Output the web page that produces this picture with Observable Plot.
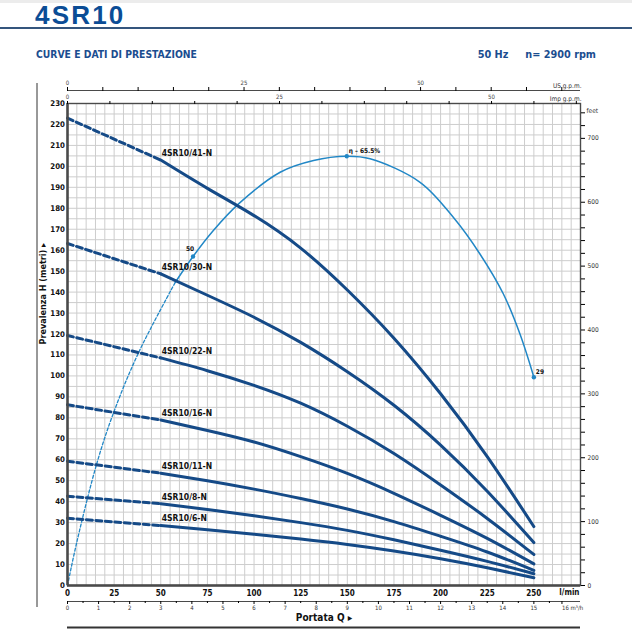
<!DOCTYPE html>
<html><head><meta charset="utf-8">
<script src="https://cdn.jsdelivr.net/npm/d3@7"></script>
<script src="https://cdn.jsdelivr.net/npm/@observablehq/plot@0.6"></script>
<style>
body{margin:0;background:#fff;width:632px;height:632px;position:relative;overflow:hidden;font-family:"Liberation Sans Narrow","DejaVu Sans Condensed","Liberation Sans",sans-serif}
#strip{position:absolute;left:0;top:0;width:632px;height:3px;background:#ececec}
#title{position:absolute;left:35px;top:1.5px;font:bold 26px/26px "Liberation Sans",Arial,sans-serif;color:#0b4d96;letter-spacing:2.2px}
#rule{position:absolute;left:0;top:27px;width:632px;height:2px;background:#34557d}
#sub{position:absolute;left:36px;top:49px;font-weight:bold;font-size:10.3px;line-height:11px;color:#1b4d8f}
#hz{position:absolute;right:36px;top:49px;font-weight:bold;font-size:10.8px;line-height:11px;color:#1b4d8f;white-space:pre}
#chart{position:absolute;left:0;top:0}
</style></head>
<body>
<div id="chart"></div>
<div id="strip"></div>
<div id="title">4SR10</div>
<div id="rule"></div>
<div id="sub">CURVE E DATI DI PRESTAZIONE</div>
<div id="hz">50 Hz     n= 2900 rpm</div>
<script>
// ---- data ----
const MODELS = ["4SR10/41-N", "4SR10/30-N", "4SR10/22-N", "4SR10/16-N", "4SR10/11-N", "4SR10/8-N", "4SR10/6-N"];
const Q_PUMP = [0, 50, 75, 100, 125, 150, 175, 200, 225, 250];          // l/min
const H_41 = [223, 203, 189.5, 176.5, 161, 141, 118, 91.5, 61.5, 28.1];  // m
const H_30 = [163.2, 148.7, 138.5, 128, 116, 102, 86, 67, 45, 20.5];
const H_22 = [119.3, 108.6, 102.5, 95.5, 87, 76, 63, 48, 32, 14.8];
const H_16 = [86.2, 79, 74, 68.5, 61.5, 53.5, 44, 33.5, 22.5, 10.3];
const H_11 = [59.3, 53.6, 50, 46, 41.5, 36.5, 30.5, 23.5, 16, 7.2];
const H_8  = [42.6, 39, 36.3, 33.3, 30, 26.3, 21.8, 16.8, 11.5, 5.6];
const H_6  = [32.1, 28.6, 26.6, 24.5, 22.2, 19.6, 16.5, 12.8, 8.5, 3.7];
const H_SERIES = [H_41, H_30, H_22, H_16, H_11, H_8, H_6];

// efficiency curve as drawn on the head scale
const Q_ETA = [0, 5.2, 15.9, 24.8, 38.2, 57.8, 67.3, 78.3, 91.7, 114, 131.9, 149.7, 162.2, 189, 206.8, 221.1, 233.6, 242.5, 250];
const H_ETA = [0, 21.5, 58.8, 82.7, 111.3, 144.7, 157, 169.5, 182.1, 197.2, 202.8, 204.8, 203.6, 192.4, 175.7, 158.2, 139.2, 120.1, 99.4];
const ETA_DASH_END = 57.8;
const ETA_MARK_Q = [67.3, 149.7, 250];
const ETA_MARK_H = [157, 204.8, 99.4];
const ETA_MARK_LABEL = ["50", "η – 65.5%", "29"];

// tick labels
const H_TICKS = d3.range(0, 231, 10);
const Q_TICKS = d3.range(0, 251, 25);
const M3H_TICKS = d3.range(0, 16, 1);
const M3H_HALF = d3.range(0.5, 16, 1);
const M3H_LAST = [16];
const US_GPM = d3.range(0, 71, 5);
const IMP_GPM = d3.range(0, 61, 5);
const FEET = d3.range(0, 741, 20);

// unit conversions to l/min and metres
const L_PER_US = 3.78541, L_PER_IMP = 4.54609, L_PER_M3H = 1000 / 60, M_PER_FT = 0.3048;

// ---- tables ----
const pumpRows = MODELS.flatMap((m, i) => Q_PUMP.map((q, j) => ({model: m, q, h: H_SERIES[i][j], j})));
const pumpDash = pumpRows.filter(d => d.j <= 1);
const pumpSolid = pumpRows.filter(d => d.j >= 1);
const pumpLabels = pumpRows.filter(d => d.j === 1);
const etaRows = Q_ETA.map((q, i) => ({q, h: H_ETA[i]}));
const etaDash = etaRows.filter(d => d.q <= ETA_DASH_END);
const etaSolid = etaRows.filter(d => d.q >= ETA_DASH_END);
const etaMarks = ETA_MARK_Q.map((q, i) => ({q, h: ETA_MARK_H[i], label: ETA_MARK_LABEL[i]}));

const NAVY = "#154a87", BLUE = "#2187c6", GRID = "#cdcdcd", AX = "#4a4a4a";
const FONT = '"Liberation Sans Narrow","DejaVu Sans Condensed","Liberation Sans",sans-serif';

const chart = Plot.plot({
  width: 632, height: 632,
  marginLeft: 67, marginRight: 52, marginTop: 103, marginBottom: 47,
  x: {domain: [0, 275], axis: null},
  y: {domain: [0, 230], axis: null},
  style: {fontFamily: FONT, background: "transparent", overflow: "visible"},
  marks: [
    Plot.ruleX(d3.range(0, 276, 5), {stroke: GRID, strokeWidth: 1}),
    Plot.ruleY(d3.range(0, 231, 5), {stroke: GRID, strokeWidth: 1}),

    // efficiency
    Plot.line(etaDash, {x: "q", y: "h", stroke: BLUE, strokeWidth: 1.3, strokeDasharray: "3,2", curve: "catmull-rom"}),
    Plot.line(etaSolid, {x: "q", y: "h", stroke: BLUE, strokeWidth: 1.5, curve: "catmull-rom"}),
    Plot.dot(etaMarks, {x: "q", y: "h", r: 2.2, fill: BLUE}),
    Plot.text(etaMarks.slice(0, 1), {x: "q", y: "h", text: "label", dx: -3, dy: -8, fontSize: 6.5, fontWeight: "bold", fill: "#111"}),
    Plot.text(etaMarks.slice(1), {x: "q", y: "h", text: "label", textAnchor: "start", dx: 2, dy: -5, fontSize: 6.5, fontWeight: "bold", fill: "#111"}),

    // pump curves
    Plot.line(pumpDash, {x: "q", y: "h", z: "model", stroke: NAVY, strokeWidth: 3, strokeDasharray: "6,3.5"}),
    Plot.line(pumpSolid, {x: "q", y: "h", z: "model", stroke: NAVY, strokeWidth: 3, curve: "natural"}),
    Plot.text(pumpLabels, {x: "q", y: "h", text: "model", textAnchor: "start", dx: 1, dy: -7, fontSize: 8.5, fontWeight: "bold", fill: "#111"}),

    // frame
    Plot.frame({stroke: AX, strokeWidth: 1.4}),
    Plot.ruleX([0], {stroke: AX, strokeWidth: 2.5}),
    Plot.ruleY([0], {stroke: AX, strokeWidth: 2.5}),

    // left axis
    Plot.axisY({anchor: "left", ticks: H_TICKS, tickSize: 0, tickPadding: 2.5, fontWeight: "bold", fontSize: 7.8, fill: "#111", label: null}),
    Plot.text(["Prevalenza H (metri) ▸"], {frameAnchor: "left", dx: -24, rotate: -90, fontWeight: "bold", fontSize: 9, fill: "#111"}),

    // bottom l/min
    Plot.axisX({anchor: "bottom", ticks: Q_TICKS, tickSize: 0, tickPadding: 5, fontWeight: "bold", fontSize: 8, fill: "#111", label: null}),
    Plot.text(["l/min"], {frameAnchor: "bottom-right", textAnchor: "end", dx: -1, dy: 9, fontWeight: "bold", fontSize: 8, fill: "#111"}),

    // bottom m3/h
    Plot.ruleY([0], {dy: 16, stroke: AX, strokeWidth: 1.2}),
    Plot.axisX({anchor: "bottom", ticks: M3H_TICKS.map(m => m * L_PER_M3H), tickSize: 3, tickPadding: 1.5, dy: 16, fontSize: 6, fill: "#333",
      tickFormat: v => String(Math.round(v / L_PER_M3H)), label: null}),
    Plot.axisX({anchor: "bottom", ticks: M3H_HALF.map(m => m * L_PER_M3H), tickSize: 2, dy: 16, tickFormat: () => "", label: null}),
    Plot.axisX({anchor: "bottom", ticks: M3H_LAST.map(m => m * L_PER_M3H), tickSize: 3, tickPadding: 1.5, dy: 16, fontSize: 6, fill: "#333",
      textAnchor: "start", dx: -3, tickFormat: v => Math.round(v / L_PER_M3H) + " m³/h", label: null}),
    Plot.text(["Portata Q ▸"], {frameAnchor: "bottom", dy: 35, fontWeight: "bold", fontSize: 10, fill: "#111"}),
    Plot.ruleY([0], {dy: 42, stroke: "#333", strokeWidth: 2}),
    Plot.ruleX([0], {dx: -30.5, insetTop: -20, insetBottom: -22, stroke: "#333", strokeWidth: 1}),

    // top Imp g.p.m. (on the frame top)
    Plot.axisX({anchor: "top", ticks: IMP_GPM.map(g => g * L_PER_IMP), tickSize: 3, tickPadding: 2, fontSize: 6, fill: "#444",
      tickFormat: v => { const g = Math.round(v / L_PER_IMP); return g % 25 === 0 ? String(g) : ""; }, label: null}),
    Plot.text(["Imp g.p.m."], {frameAnchor: "top-right", textAnchor: "end", dx: 1, dy: -7, fontSize: 6.5, fill: "#333"}),
    // top US g.p.m.
    Plot.ruleY([230], {dy: -13, stroke: AX, strokeWidth: 1.2}),
    Plot.axisX({anchor: "top", ticks: US_GPM.map(g => g * L_PER_US), tickSize: 4, tickPadding: 1.5, dy: -13, fontSize: 6, fill: "#444",
      tickFormat: v => { const g = Math.round(v / L_PER_US); return g % 25 === 0 ? String(g) : ""; }, label: null}),
    Plot.text(["US g.p.m."], {frameAnchor: "top-right", textAnchor: "end", dx: 1, dy: -20, fontSize: 6.5, fill: "#333"}),

    // right feet axis
    Plot.axisY({anchor: "right", ticks: FEET.map(f => f * M_PER_FT), tickSize: 4, tickPadding: 3, fontSize: 6.5, fill: "#333",
      tickFormat: v => { const f = Math.round(v / M_PER_FT); return f % 100 === 0 ? String(f) : ""; }, label: null}),
    Plot.text(["feet"], {frameAnchor: "top-right", textAnchor: "start", dx: 6, dy: 5, fontSize: 6.5, fill: "#333"})
  ]
});
document.getElementById("chart").appendChild(chart);
</script>
</body></html>
